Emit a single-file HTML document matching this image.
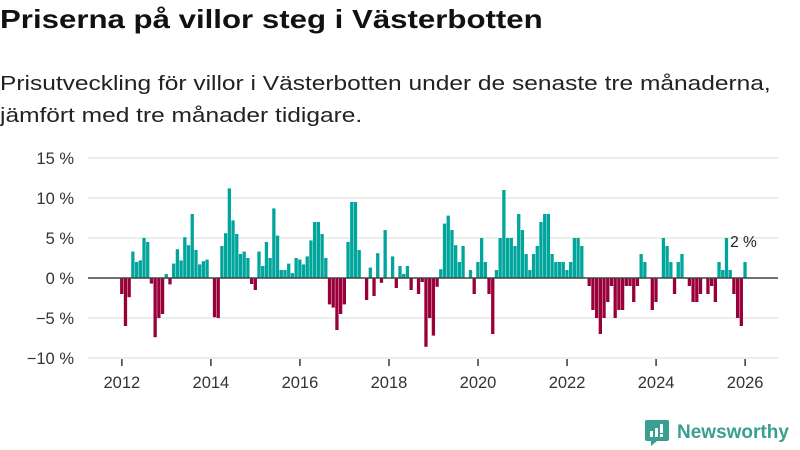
<!DOCTYPE html>
<html><head><meta charset="utf-8">
<style>
body{margin:0;width:800px;height:450px;background:#fff;font-family:"Liberation Sans","DejaVu Sans",sans-serif;overflow:hidden;position:relative;color:#111}
#title{position:absolute;left:0;top:4px;font-size:26px;font-weight:bold;margin:0;transform-origin:0 0;transform:scaleX(1.2);white-space:nowrap}
#sub{position:absolute;left:0;top:68px;font-size:20.5px;line-height:32px;color:#222;transform-origin:0 0;transform:scaleX(1.195);white-space:nowrap}
svg{position:absolute;left:0;top:0}
</style></head><body>
<h1 id="title">Priserna på villor steg i Västerbotten</h1>
<div id="sub">Prisutveckling för villor i Västerbotten under de senaste tre månaderna,<br>jämfört med tre månader tidigare.</div>
<svg id="chart" width="800" height="450"></svg>
<script>
const startYear = 2012;
const startMonth = 1;
const values = [-2.0,-6.0,-2.4,3.3,2.0,2.2,5.0,4.5,-0.7,-7.4,-5.0,-4.5,0.5,-0.8,1.8,3.6,2.2,5.1,4.1,8.0,3.5,1.7,2.1,2.3,
0,-4.9,-5.0,4.0,5.6,11.2,7.2,5.5,3.0,3.3,2.5,-0.75,-1.5,3.3,1.5,4.5,2.5,8.7,5.3,1.0,1.0,1.8,0.6,2.5,
2.3,1.7,2.7,4.7,7.0,7.0,5.5,2.5,-3.3,-3.7,-6.5,-4.5,-3.3,4.5,9.5,9.5,3.5,0,-2.75,1.3,-2.25,3.1,-0.6,6.0,
0,2.7,-1.25,1.5,0.5,1.5,-1.5,0,-2.0,-0.5,-8.6,-5.0,-7.2,-1.1,1.1,6.8,7.8,6.0,4.1,2.0,4.0,0,1.0,-2.0,
2.0,5.0,2.0,-2.0,-7.0,1.0,5.0,11.0,5.0,5.0,4.0,8.0,6.0,3.0,1.0,3.0,4.0,7.0,8.0,8.0,3.0,2.0,2.0,2.0,
1.0,2.0,5.0,5.0,4.0,0,-1.0,-4.0,-5.0,-7.0,-5.0,-3.0,-1.0,-5.0,-4.0,-4.0,-1.0,-1.0,-3.0,-1.0,3.0,2.0,0,-4.0,
-3.0,0,5.0,4.0,2.0,-2.0,2.0,3.0,0,-1.0,-3.0,-3.0,-2.0,0,-2.0,-1.0,-3.0,2.0,1.0,5.0,1.0,-2.0,-5.0,-6.0,2.0];
const yTicks = [15,10,5,0,-5,-10];
const yTickLabels = ["15 %","10 %","5 %","0 %","−5 %","−10 %"];
const xTicks = [2012,2014,2016,2018,2020,2022,2024,2026];
const lastLabel = "2 %";

const svg = document.getElementById('chart');
const NS = 'http://www.w3.org/2000/svg';
const y = v => 278 - 8 * v;
const xMonth = n => 121.85 + 3.71 * n;
const xYear = yr => xMonth((yr - startYear) * 12 - (startMonth - 1));
function mk(tag, attrs){const e=document.createElementNS(NS,tag);for(const k in attrs)e.setAttribute(k,attrs[k]);svg.appendChild(e);return e;}

yTicks.forEach((t,i)=>{
  const g = mk('line',{x1:88,x2:778,y1:y(t),y2:y(t),stroke:'#e2e2e2','stroke-width':1.3});
  
  
  const l = mk('text',{x:74,y:y(t)+6,'text-anchor':'end','font-size':16.5,fill:'#333','font-family':'Liberation Sans, sans-serif'});
  l.textContent = yTickLabels[i];
  
  
});
values.forEach((v,n)=>{
  if(v===0) return;
  const cx = xMonth(n);
  const r = mk('rect',{x:cx-1.75,width:3.3,y:Math.min(y(v),y(0)),height:Math.abs(y(v)-y(0)),fill:v>0?'#00a59b':'#990039'});
  
  
});
const zl = mk('line',{x1:88,x2:778,y1:y(0),y2:y(0),stroke:'#444','stroke-width':1.6});


xTicks.forEach(t=>{
  const tk = mk('line',{x1:xYear(t),x2:xYear(t),y1:359,y2:366,stroke:'#444','stroke-width':1.6});
  
  
  const l = mk('text',{x:xYear(t),y:388,'text-anchor':'middle','font-size':16.5,fill:'#333','font-family':'Liberation Sans, sans-serif'});
  l.textContent = t;
  
  
});
const last = values.length-1;
const lb = mk('text',{x:xMonth(last)-15,y:y(values[last])-15,'font-size':15.5,fill:'#222','font-family':'Liberation Sans, sans-serif'});
lb.textContent = lastLabel;


</script>
<div style="position:absolute;left:645px;top:420px;display:flex;align-items:center;">
  <svg width="24" height="26" viewBox="0 0 24 26" style="position:static">
    <path d="M2 0h20a2 2 0 0 1 2 2v17a2 2 0 0 1-2 2H12l-6 5v-5H2a2 2 0 0 1-2-2V2a2 2 0 0 1 2-2z" fill="#3a9e92"/>
    <rect x="5" y="11" width="3" height="6" fill="#fff"/><rect x="10" y="8" width="3" height="9" fill="#fff"/><rect x="15" y="4" width="3" height="9" fill="#fff"/><rect x="15" y="14" width="3" height="3" fill="#fff"/>
  </svg>
  <span style="margin-left:8px;font-size:19px;color:#3a9e92;font-weight:bold">Newsworthy</span>
</div>
</body></html>
